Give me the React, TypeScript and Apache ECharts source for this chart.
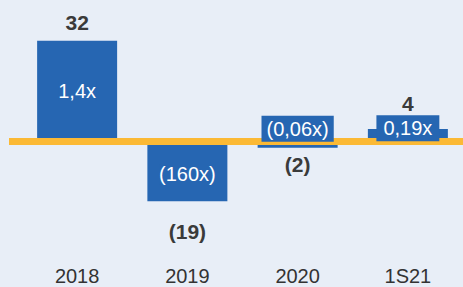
import React, { useEffect, useRef } from "react";
import * as echarts from "echarts";

const categories = ["2018", "2019", "2020", "1S21"];
const values = [32, -19, -2, 4];
const valueLabels = ["32", "(19)", "(2)", "4"];
const ratioLabels = ["1,4x", "(160x)", "(0,06x)", "0,19x"];

const BLUE = "#2666b2";
const ORANGE = "#fbb935";
const BG = "#e8eef7";
const FONT = "'Liberation Sans', Arial, Helvetica, sans-serif";

// styling per item (positions of labels), not data
const valueLabelDistance = [8, 20, 6, 15];
const ratioLabelOffset: [number, number][] = [[0, 0], [0, 3], [0, -16], [0, -7]];
const ratioLabelPadding: [number, number][] = [[0, 0], [0, 0], [3, 5], [3, 7]];

export default function App() {
  const ref = useRef<HTMLDivElement>(null);
  useEffect(() => {
    document.body.style.margin = "0";
    if (!ref.current) return;
    const chart = echarts.init(ref.current, undefined, { renderer: "svg" });
    chart.setOption({
      animation: false,
      backgroundColor: BG,
      grid: { left: 22, width: 443, top: 31.25, height: 189 },
      xAxis: {
        type: "category",
        data: categories,
        axisLine: { show: false, onZero: false },
        axisTick: { show: false },
        axisLabel: {
          color: "#333333",
          fontSize: 20,
          fontFamily: FONT,
          margin: 46,
        },
      },
      yAxis: {
        type: "value",
        min: -25,
        max: 35,
        show: false,
        splitLine: { show: false },
      },
      series: [
        {
          type: "bar",
          barWidth: 80,
          z: 2,
          silent: true,
          itemStyle: { color: BLUE },
          data: values.map((v, i) => ({
            value: v,
            label: {
              show: true,
              position: "outside",
              distance: valueLabelDistance[i],
              formatter: valueLabels[i],
              fontSize: 21,
              fontWeight: "bold",
              fontFamily: FONT,
              color: "#3a3a3a",
            },
          })),
        },
        {
          type: "bar",
          barWidth: 80,
          barGap: "-100%",
          z: 5,
          silent: true,
          itemStyle: { color: "transparent" },
          data: values.map((v, i) => ({
            value: v,
            label: {
              show: true,
              position: "inside",
              offset: ratioLabelOffset[i],
              formatter: ratioLabels[i],
              fontSize: 20,
              fontFamily: FONT,
              color: "#ffffff",
              backgroundColor: BLUE,
              padding: ratioLabelPadding[i],
            },
          })),
        },
      ],
    });
    const y0 = chart.convertToPixel({ yAxisIndex: 0 }, 0) as number;
    chart.setOption({
      graphic: [
        {
          type: "line",
          z: 3,
          silent: true,
          shape: { x1: 9, y1: y0, x2: 463, y2: y0 },
          style: { stroke: ORANGE, lineWidth: 7 },
        },
      ],
    });
    return () => chart.dispose();
  }, []);
  return <div ref={ref} style={{ width: 463, height: 287 }} />;
}
